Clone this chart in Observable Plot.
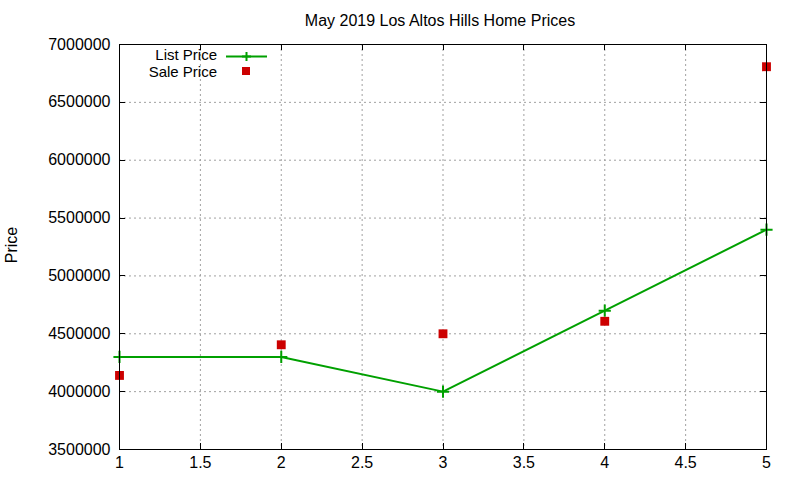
<!DOCTYPE html>
<html>
<head>
<meta charset="utf-8">
<script src="https://cdn.jsdelivr.net/npm/d3@7"></script>
<script src="https://cdn.jsdelivr.net/npm/@observablehq/plot@0.6"></script>
<style>
  html, body { margin: 0; padding: 0; background: #fff; }
  #chart { width: 800px; height: 480px; }
</style>
</head>
<body>
<div id="chart"></div>
<script>
const titleText = "May 2019 Los Altos Hills Home Prices";
const yLabel = "Price";
const xValues = [1, 2, 3, 4, 5];
const listPrice = [4300000, 4300000, 4000000, 4700000, 5400000];
const salePrice = [4140000, 4405000, 4500000, 4608000, 6808000];
const xTicks = [1, 1.5, 2, 2.5, 3, 3.5, 4, 4.5, 5];
const yTicks = [3500000, 4000000, 4500000, 5000000, 5500000, 6000000, 6500000, 7000000];
const seriesNames = ["List Price", "Sale Price"];

const listData = xValues.map((x, i) => ({x, y: listPrice[i]}));
const saleData = xValues.map((x, i) => ({x, y: salePrice[i]}));

const FONT = "'Liberation Sans', Arial, sans-serif";
const GREEN = "#00a000";
const RED = "#cc0000";

const plot = Plot.plot({
  width: 800,
  height: 480,
  marginLeft: 119,
  marginRight: 34,
  marginTop: 44,
  marginBottom: 31,
  style: {fontFamily: FONT, fontSize: "16px", color: "#000", background: "#fff"},
  x: {domain: [1, 5], ticks: xTicks, tickFormat: d => String(d)},
  y: {domain: [3500000, 7000000], ticks: yTicks, tickFormat: d3.format("d")},
  marks: [
    Plot.gridX(xTicks, {stroke: "#a0a0a0", strokeOpacity: 1, strokeDasharray: "2,3", strokeWidth: 1}),
    Plot.gridY(yTicks, {stroke: "#a0a0a0", strokeOpacity: 1, strokeDasharray: "2,3", strokeWidth: 1}),
    Plot.axisX(xTicks, {tickSize: 0, tickPadding: 7, fontSize: 16, tickFormat: d => String(d), label: null}),
    Plot.axisY(yTicks, {tickSize: 0, tickPadding: 9, fontSize: 16, tickFormat: d3.format("d"), label: null}),
    Plot.line(listData, {x: "x", y: "y", stroke: GREEN, strokeWidth: 2}),
    Plot.dot(listData, {x: "x", y: "y", symbol: "plus", r: 4, stroke: GREEN, strokeWidth: 2}),
    Plot.dot(saleData, {x: "x", y: "y", symbol: "square", r: 5, fill: RED, stroke: null}),
    Plot.frame({stroke: "#000", strokeWidth: 1})
  ]
});

document.getElementById("chart").appendChild(plot);

// ticks (inward, mirrored) drawn from the plot's scales
const svg = d3.select(plot);
const xs = plot.scale("x"), ys = plot.scale("y");
const L = 119, R = 800 - 34, T = 44, B = 480 - 31, TL = 6;
const tg = svg.append("g").attr("stroke", "#000").attr("stroke-width", 1);
xTicks.forEach(v => {
  const px = Math.round(xs.apply(v)) + 0.5;
  tg.append("line").attr("x1", px).attr("x2", px).attr("y1", B).attr("y2", B - TL);
  tg.append("line").attr("x1", px).attr("x2", px).attr("y1", T).attr("y2", T + TL);
});
yTicks.forEach(v => {
  const py = Math.round(ys.apply(v)) + 0.5;
  tg.append("line").attr("y1", py).attr("y2", py).attr("x1", L).attr("x2", L + TL);
  tg.append("line").attr("y1", py).attr("y2", py).attr("x1", R).attr("x2", R - TL);
});

// title & y label
svg.append("text").attr("x", 440).attr("y", 26).attr("text-anchor", "middle")
  .attr("font-family", FONT).attr("font-size", 16).attr("fill", "#000").text(titleText);
svg.append("text").attr("transform", "translate(17,245) rotate(-90)").attr("text-anchor", "middle")
  .attr("font-family", FONT).attr("font-size", 16).attr("fill", "#000").text(yLabel);

// legend
const lg = svg.append("g").attr("font-family", FONT).attr("font-size", 15).attr("fill", "#000");
lg.append("text").attr("x", 217).attr("y", 60).attr("text-anchor", "end").text(seriesNames[0]);
lg.append("line").attr("x1", 226).attr("x2", 267).attr("y1", 56.5).attr("y2", 56.5).attr("stroke", GREEN).attr("stroke-width", 2);
lg.append("path").attr("d", "M242,56.5h9M246.5,52v9").attr("stroke", GREEN).attr("stroke-width", 2);
lg.append("text").attr("x", 217).attr("y", 77).attr("text-anchor", "end").text(seriesNames[1]);
lg.append("rect").attr("x", 242).attr("y", 67).attr("width", 8).attr("height", 8).attr("fill", RED);
</script>
</body>
</html>
